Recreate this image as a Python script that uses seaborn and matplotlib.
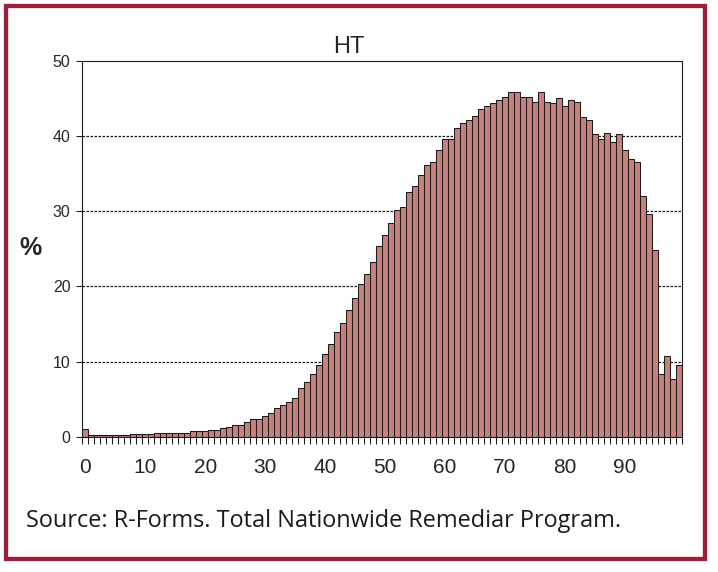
import numpy as np
import pandas as pd
import matplotlib
matplotlib.use("Agg")
import matplotlib.pyplot as plt
from matplotlib.patches import Rectangle
import seaborn as sns

# data: one bar per value 0..99
ages = list(range(100))
pct = [1.0, 0.2, 0.2, 0.2, 0.2, 0.2, 0.2, 0.2, 0.4, 0.4,
       0.4, 0.4, 0.55, 0.55, 0.55, 0.55, 0.55, 0.55, 0.8, 0.8,
       0.8, 0.95, 0.95, 1.2, 1.35, 1.6, 1.6, 2.0, 2.3, 2.3,
       2.7, 3.2, 3.8, 4.2, 4.6, 5.2, 6.5, 7.3, 8.3, 9.5,
       11.0, 12.4, 13.9, 15.1, 16.9, 18.4, 20.3, 21.7, 23.2, 25.4,
       26.9, 28.5, 30.2, 30.6, 32.5, 33.3, 34.8, 36.1, 36.5, 38.1,
       39.6, 39.6, 41.1, 41.7, 42.1, 42.7, 43.6, 44.0, 44.4, 44.8,
       45.2, 45.85, 45.85, 45.2, 45.2, 44.5, 45.85, 44.5, 44.4, 45.05,
       44.0, 44.8, 44.5, 42.5, 42.1, 40.3, 39.6, 40.4, 39.2, 40.3,
       38.1, 36.9, 36.5, 32.0, 29.7, 24.8, 8.4, 10.7, 7.7, 9.6]
x_labels = [str(v) for v in range(0, 100, 10)]
y_ticks = [0, 10, 20, 30, 40, 50]

df = pd.DataFrame({"age": ages, "pct": pct})

sns.set_style("white")
plt.rcParams["font.family"] = ["Liberation Sans", "DejaVu Sans"]

W, H = 718, 572
fig = plt.figure(figsize=(W / 100, H / 100), dpi=100)
ax = fig.add_axes([82.3 / W, 1 - 436.7 / H, (681.7 - 82.3) / W, (436.7 - 61) / H])

sns.barplot(data=df, x="age", y="pct", color="#C7827E", saturation=1,
            width=1.0, edgecolor="#1a1a1a", linewidth=0.75, ax=ax, zorder=2)

ax.set_xlim(-0.5, 99.5)
ax.set_ylim(0, 50)
ax.set_yticks(y_ticks)
ax.set_yticklabels([str(v) for v in y_ticks], fontsize=11.5)
ax.set_xticks(range(0, 100, 10))
ax.set_xticklabels(x_labels, fontsize=15)
ax.set_xticks(np.arange(-0.5, 100, 1), minor=True)
ax.tick_params(axis="x", which="major", length=0, pad=15)
ax.tick_params(axis="x", which="minor", length=5, width=0.75, direction="out",
               color="#1a1a1a", bottom=True)
ax.tick_params(axis="y", which="major", length=4, width=0.75, direction="out",
               color="#1a1a1a", left=True, pad=4.5)
ax.set_xlabel("")
ax.set_ylabel("")

for v in [10, 20, 30, 40]:
    ax.axhline(v, color="#1a1a1a", lw=0.9, linestyle=(0, (2, 1.2)), zorder=0)

for s in ax.spines.values():
    s.set_visible(True)
    s.set_color("#1a1a1a")
    s.set_linewidth(0.8)

fig.text(349 / W, 1 - 53.3 / H, "HT", fontsize=17, ha="center", va="baseline")
fig.text(30.7 / W, 1 - 248.5 / H, "%", fontsize=18, fontweight="bold",
         ha="center", va="center")
fig.text(26 / W, 1 - 527.3 / H, "Source: R-Forms. Total Nationwide Remediar Program.",
         fontsize=16.9, family=["Open Sans", "DejaVu Sans"], ha="left", va="baseline",
         color="#1a1a1a")

fig.add_artist(Rectangle((5.9 / W, 1 - 558.5 / H), (705 - 5.9) / W, (558.5 - 5.9) / H,
                         transform=fig.transFigure, fill=False,
                         edgecolor="#A01E38", linewidth=3.1))

fig.savefig("out.png", dpi=100)
